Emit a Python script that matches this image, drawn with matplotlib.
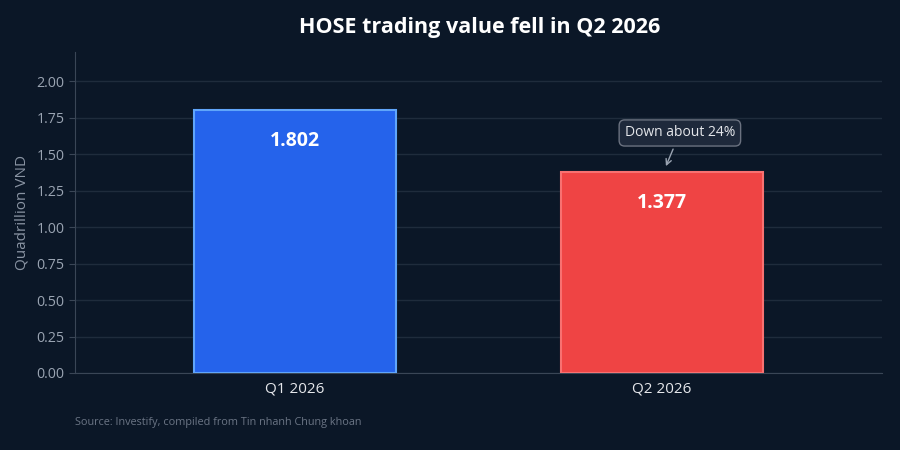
import matplotlib
matplotlib.use("Agg")
import matplotlib.pyplot as plt

categories = ["Q1 2026", "Q2 2026"]
values = [1.802, 1.377]
bar_colors = ["#2563eb", "#ef4444"]
edge_colors = ["#60a5fa", "#f87171"]
title = "HOSE trading value fell in Q2 2026"
ylabel = "Quadrillion VND"
note = "Down about 24%"
source = "Source: Investify, compiled from Tin nhanh Chung khoan"

plt.rcParams['font.family'] = ['Open Sans', 'Noto Sans', 'DejaVu Sans']
bg = "#0b1727"
fig = plt.figure(figsize=(9, 4.5), dpi=100, facecolor=bg)
ax = fig.add_axes([75/900, 1-373/450, 807/900, (373-52)/450])
ax.set_facecolor(bg)

x = list(range(len(categories)))
ax.bar(x, values, width=0.55, color=bar_colors, edgecolor=edge_colors, linewidth=1.5, zorder=3)
for xi, v in zip(x, values):
    ax.text(xi, v - 0.21, f"{v:.3f}", ha="center", va="center", color="white",
            fontsize=14, fontweight="bold", zorder=4)

ax.set_xlim(-0.6, 1.6)
ax.set_ylim(0, 2.2)
ax.set_yticks([0, 0.25, 0.5, 0.75, 1.0, 1.25, 1.5, 1.75, 2.0])
ax.set_yticklabels([f"{t:.2f}" for t in ax.get_yticks()])
ax.set_xticks(x)
ax.set_xticklabels(categories)
ax.tick_params(axis="y", colors="#3a4656", labelcolor="#9aa4b2", labelsize=10.3, length=4)
ax.tick_params(axis="x", colors="#3a4656", labelcolor="#e5e7eb", labelsize=11, length=0, pad=6)
ax.grid(axis="y", color="#1f2c3c", linewidth=1, zorder=0)
for s in ["top", "right"]:
    ax.spines[s].set_visible(False)
for s in ["left", "bottom"]:
    ax.spines[s].set_color("#3a4656")
ax.set_ylabel(ylabel, color="#8a94a3", fontsize=11, labelpad=5)

ax.annotate(note, xy=(1.008, 1.40), xytext=(1.049, 1.645), ha="center", va="center",
            color="#e5e7eb", fontsize=10,
            bbox=dict(boxstyle="round,pad=0.4", fc="#1e293b", ec="#6b7280", lw=1),
            arrowprops=dict(arrowstyle="->", color="#9aa4b2", lw=1), zorder=5)

fig.text(480/900, 1-28/450, title, ha="center", va="center", color="white",
         fontsize=15.5, fontweight="bold")
fig.text(75/900, 1-423/450, source, ha="left", va="center", color="#6b7585", fontsize=7.8)

fig.savefig("out.png", dpi=100, facecolor=bg)
